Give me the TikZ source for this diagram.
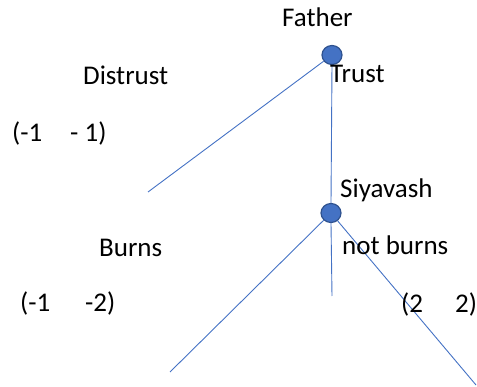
\documentclass[tikz,border=0pt]{standalone}
\usepackage{fontspec}
\setmainfont{Carlito}
\usetikzlibrary{shapes.geometric}
\definecolor{lineblue}{HTML}{4472C4}
\definecolor{dotedge}{HTML}{2F528F}
\begin{document}
\begin{tikzpicture}[x=1pt,y=-1pt,
  dot/.style={ellipse,draw=dotedge,fill=lineblue,line width=1.2pt,minimum width=20pt,minimum height=19pt,inner sep=0pt},
  edge/.style={draw=lineblue,line width=0.9pt},
  lbl/.style={anchor=base west,inner sep=0pt,font=\fontsize{27}{32}\selectfont}]
\useasboundingbox (0,0) rectangle (477,387);
\coordinate (e1) at (148,192);
\coordinate (e2) at (170,372);
\coordinate (e3) at (332,296);
\coordinate (e4) at (476,385);
\node[dot] (f) at (332,55) {};
\node[dot] (s) at (331,213) {};
\draw[edge] (f) -- (e1);
\draw[edge] (f.south) -- (s.north);
\draw[edge] (s) -- (e2);
\draw[edge] (s.south) -- (e3);
\draw[edge] (s) -- (e4);
\node[lbl] (tf) at (282,27) {Father};
\node[lbl] (tt) at (330,83) {Trust};
\node[lbl] (td) at (83,85) {Distrust};
\node[lbl] (p1a) at (12,142) {(-1};
\node[lbl] (p1b) at (70,142) {- 1)};
\node[lbl] (ts) at (340,198) {Siyavash};
\node[lbl] (tb) at (99,257) {Burns};
\node[lbl] (tn) at (342,255) {not burns};
\node[lbl] (p2a) at (20,312) {(-1};
\node[lbl] (p2b) at (85,312) {-2)};
\node[lbl] (p3a) at (401,313) {(2};
\node[lbl] (p3b) at (455,313) {2)};
\end{tikzpicture}
\end{document}
